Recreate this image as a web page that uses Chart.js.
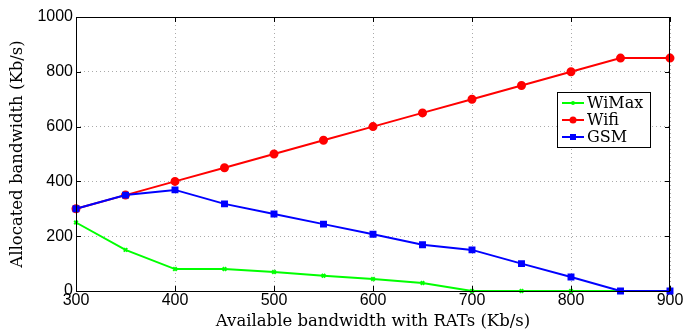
<!DOCTYPE html>
<html>
<head>
<meta charset="utf-8">
<script src="https://cdn.jsdelivr.net/npm/chart.js@4/dist/chart.umd.min.js"></script>
<style>
  html, body { margin: 0; padding: 0; background: #fff; }
  #wrap { width: 684px; height: 333px; }
</style>
</head>
<body>
<div id="wrap"><canvas id="chart" width="684" height="333"></canvas></div>
<script>
// ── Data ─────────────────────────────────────────────────────────────────────
const xValues = [300, 350, 400, 450, 500, 550, 600, 650, 700, 750, 800, 850, 900];
const wimax   = [250, 150, 80, 80, 69, 56, 44, 29, 0, 0, 0, 0, 0];
const wifi    = [300, 350, 400, 450, 500, 550, 600, 650, 700, 750, 800, 850, 850];
const gsm     = [300, 350, 369, 318, 281, 244, 207, 169, 150, 100, 51, 0, 0];
const xTicks  = [300, 400, 500, 600, 700, 800, 900];
const yTicks  = [0, 200, 400, 600, 800, 1000];

const TICK_FONT  = { family: "Liberation Sans, Arial, sans-serif", size: 16 };
const TITLE_FONT = { family: "DejaVu Serif, Liberation Serif, serif", size: 16.5 };

const toPts = arr => arr.map((y, i) => ({ x: xValues[i], y }));

// frame + legend drawn like the matlab figure
const framePlugin = {
  id: "frame",
  afterDraw(chart) {
    const { ctx, chartArea: a } = chart;
    ctx.save();
    ctx.strokeStyle = "#000";
    ctx.lineWidth = 1;
    ctx.strokeRect(a.left + 0.5, a.top + 0.5, a.right - a.left - 1, a.bottom - a.top);
    // inward ticks
    const xs = chart.scales.x, ys = chart.scales.y;
    ctx.beginPath();
    xTicks.forEach(v => {
      const px = Math.round(xs.getPixelForValue(v)) + 0.5;
      ctx.moveTo(px, a.bottom); ctx.lineTo(px, a.bottom - 5);
      ctx.moveTo(px, a.top); ctx.lineTo(px, a.top + 5);
    });
    yTicks.forEach(v => {
      const py = Math.round(ys.getPixelForValue(v)) + 0.5;
      ctx.moveTo(a.left, py); ctx.lineTo(a.left + 5, py);
      ctx.moveTo(a.right, py); ctx.lineTo(a.right - 5, py);
    });
    ctx.stroke();

    // legend box
    const lx = 557, ly = 92, lw = 93, lh = 55;
    ctx.fillStyle = "#fff";
    ctx.fillRect(lx, ly, lw, lh);
    ctx.strokeRect(lx + 0.5, ly + 0.5, lw, lh);
    ctx.font = "16px " + TITLE_FONT.family;
    ctx.textBaseline = "middle";
    chart.data.datasets.forEach((ds, i) => {
      const cy = ly + 11 + i * 17;
      ctx.strokeStyle = ds.borderColor;
      ctx.lineWidth = 2;
      ctx.beginPath(); ctx.moveTo(lx + 5, cy); ctx.lineTo(lx + 27, cy); ctx.stroke();
      ctx.fillStyle = ds.borderColor;
      const cx = lx + 16;
      if (ds.pointStyle === "rect") ctx.fillRect(cx - 3, cy - 3, 6, 6);
      else if (ds.pointStyle === "circle") { ctx.beginPath(); ctx.arc(cx, cy, 3.5, 0, Math.PI * 2); ctx.fill(); }
      else { ctx.beginPath(); ctx.arc(cx, cy, 2, 0, Math.PI * 2); ctx.fill(); }
      ctx.fillStyle = "#000";
      ctx.fillText(ds.label, lx + 30, cy + 1);
    });
    ctx.restore();
  },
};

const ctx = document.getElementById("chart").getContext("2d");
new Chart(ctx, {
  type: "line",
  data: {
    datasets: [
      { label: "WiMax", data: toPts(wimax), borderColor: "#00ff00", backgroundColor: "#00ff00",
        borderWidth: 2, pointStyle: "crossRot", pointRadius: 2.5, pointBorderWidth: 2, clip: false, order: 2 },
      { label: "Wifi", data: toPts(wifi), borderColor: "#ff0000", backgroundColor: "#ff0000",
        borderWidth: 2, pointStyle: "circle", pointRadius: 3.5, clip: false, order: 1 },
      { label: "GSM", data: toPts(gsm), borderColor: "#0000ff", backgroundColor: "#0000ff",
        borderWidth: 2, pointStyle: "rect", pointRadius: 3.5, clip: false, order: 0 },
    ],
  },
  options: {
    responsive: false,
    animation: false,
    layout: { padding: { top: 17, right: 14, left: 0, bottom: 0 } },
    plugins: { legend: { display: false }, tooltip: { enabled: false } },
    scales: {
      x: {
        type: "linear", min: 300, max: 900,
        afterBuildTicks: s => { s.ticks = xTicks.map(v => ({ value: v })); },
        afterFit: s => { s.height = 42; },
        ticks: { color: "#000", font: TICK_FONT, padding: 0, maxRotation: 0, callback: v => String(v) },
        grid: { color: "#aaa", lineWidth: 1, drawTicks: false },
        border: { display: false, dash: [1, 3] },
        title: { display: true, text: "Available bandwidth with RATs (Kb/s)", color: "#000",
                 font: TITLE_FONT, padding: { top: 0, bottom: 1 } },
      },
      y: {
        min: 0, max: 1000,
        afterBuildTicks: s => { s.ticks = yTicks.map(v => ({ value: v })); },
        afterFit: s => { s.width = 76; },
        ticks: { color: "#000", font: TICK_FONT, padding: 3, callback: v => String(v) },
        grid: { color: "#aaa", lineWidth: 1, drawTicks: false },
        border: { display: false, dash: [1, 3] },
        title: { display: true, text: "Allocated bandwidth (Kb/s)", color: "#000",
                 font: TITLE_FONT, padding: { top: 8, bottom: 2 } },
      },
    },
  },
  plugins: [framePlugin],
});
</script>
</body>
</html>
